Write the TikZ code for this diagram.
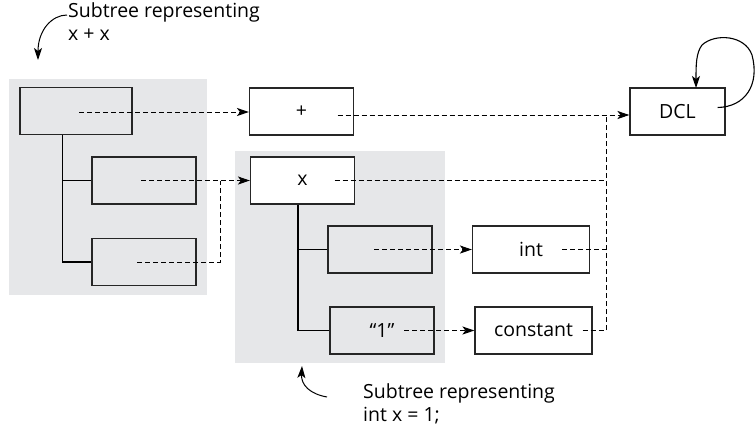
\documentclass[tikz,border=0pt]{standalone}
\usepackage{fontspec}
\setmainfont{Open Sans}
\usetikzlibrary{arrows.meta,calc}
\definecolor{panelgray}{HTML}{E6E7E9}
\tikzset{
  box/.style={draw=black!85, line width=1.1pt, fill=white, minimum width=#1, minimum height=47pt, inner sep=0pt, font=\fontsize{19.5}{22}\selectfont},
  box/.default=104pt,
  dsh/.style={line width=1pt, dash pattern=on 5pt off 3pt},
  arr/.style={-{Stealth[length=12pt,width=8pt,inset=3pt]}},
  tree/.style={line width=1.1pt},
  lbl/.style={align=left, anchor=north west, inner sep=0pt, font=\fontsize{19.5}{23}\selectfont}
}
\begin{document}
\begin{tikzpicture}[x=1pt,y=-1pt]
\useasboundingbox (0,0) rectangle (755,429);
% gray panels
\fill[panelgray] (9,79) rectangle (207,295);
\fill[panelgray] (235,151) rectangle (445,363);
% subtree x + x
\node[box=112pt, fill=panelgray] (A) at (76,111) {};
\node[box, fill=panelgray] (B) at (144,180.5) {};
\node[box, fill=panelgray] (C) at (144,262) {};
% subtree int x = 1
\node[box] (X) at (302.5,180.5) {x};
\node[box, fill=panelgray] (E) at (380,249.5) {};
\node[box, fill=panelgray] (O) at (382,330.5) {“1”};
% targets
\node[box] (P) at (301.5,111.5) {+};
\node[box=95pt] (D) at (677.5,111.5) {DCL};
\node[box=117pt] (I) at (531,249.5) {int};
\node[box=117pt] (K) at (533.5,330.5) {constant};
% tree lines
\coordinate (ta) at ($(A.south west)+(43,0)$);
\draw[tree] (ta) |- (C.west);
\draw[tree] (ta |- B.west) -- (B.west);
\coordinate (tx) at ($(X.south west)+(48,0)$);
\draw[tree] (tx) |- (O.west);
\draw[tree] (tx |- E.west) -- (E.west);
% dashed pointers
\coordinate (j) at (606,115);
\coordinate (k) at (220,180.5);
\draw[dsh,arr] ($(A.center)+(3,1)$) -- (P.west |- {$(A.center)+(3,1)$});
\draw[dsh,arr] ($(B.center)+(-3,0)$) -- (X.west);
\draw[dsh] ($(C.center)+(-7,0)$) -| (k);
\draw[dsh,arr] ($(P.center)+(36,3.5)$) -- (D.west |- j);
\draw[dsh] ($(X.center)+(32,0)$) -- (X.center -| j);
\draw[dsh,arr] ($(E.center)+(-6,0)$) -- (I.west);
\draw[dsh,arr] ($(O.center)+(22,0)$) -- (K.west);
\draw[dsh] ($(I.center)+(31,0)$) -- (I.center -| j);
\draw[dsh] ($(K.center)+(49,0)$) -| (j);
% self loop on DCL
\draw[line width=1.1pt, arr] ($(D.east)+(-8,-4)$) .. controls (745,107) and (760,85) .. (752,55)
  .. controls (745,35) and (715,33) .. (702,45) .. controls (696,53) and (696,65) .. (696,88);
% labels
\node[lbl] (L1) at (68,2) {Subtree representing\\x + x};
\draw[line width=1pt, arr] ($(L1.north west)+(-1,13)$) .. controls (52,15) and (38,30) .. (38,60);
\node[lbl] (L2) at (363,383) {Subtree representing\\int x = 1;};
\draw[line width=1pt, arr] ($(L2.north west)+(-36,14)$) .. controls (310,394) and (301,385) .. (302,366);
\end{tikzpicture}
\end{document}
